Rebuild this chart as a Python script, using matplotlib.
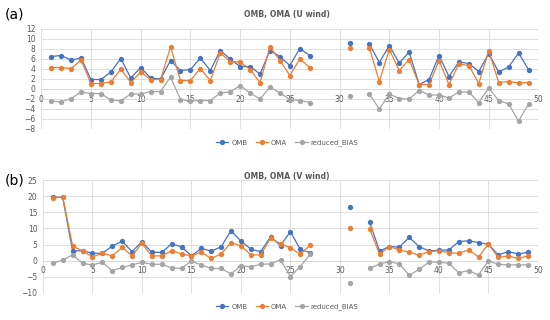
import numpy as np
import matplotlib
matplotlib.use('Agg')
import matplotlib.pyplot as plt

nan = np.nan

# station index 1..49 (28-30 and 32 missing)
idx = list(range(1, 50))

u_omb = [6.5, 6.7, 5.8, 6.2, 1.9, 1.9, 3.4, 6.1, 2.2, 4.3, 2.2, 2.0, 5.7, 3.7, 3.9, 6.2, 3.7, 7.7, 6.0, 4.5,
         4.5, 3.0, 7.7, 6.5, 4.7, 8.1, 6.7, nan, nan, nan, 9.3, nan, 9.0, 5.3, 8.7, 5.2, 7.4, 0.9, 1.9, 6.7,
         2.5, 5.4, 5.1, 3.5, 7.1, 3.4, 4.4, 7.2, 3.9]
u_oma = [4.3, 4.3, 4.1, 5.8, 1.1, 1.1, 1.4, 4.0, 1.3, 3.4, 1.9, 1.9, 8.4, 1.7, 1.7, 4.1, 1.7, 7.2, 5.5, 5.4,
         3.9, 1.3, 8.4, 5.7, 2.7, 6.0, 4.3, nan, nan, nan, 8.2, nan, 8.2, 1.5, 7.9, 3.7, 5.9, 0.9, 0.9, 5.7,
         0.9, 5.0, 4.7, 1.1, 7.7, 1.3, 1.5, 1.2, 1.3]
u_bias = [-2.4, -2.6, -1.9, -0.6, -0.9, -0.9, -2.2, -2.4, -1.0, -1.0, -0.5, -0.5, 2.4, -2.1, -2.4, -2.3, -2.3, -0.8, -0.6, 0.7,
          -0.8, -2.0, 0.4, -0.8, -2.1, -2.3, -2.7, nan, nan, nan, -1.3, nan, -1.0, -4.0, -1.0, -1.9, -2.0, -0.3, -1.2, -1.2,
          -1.8, -0.6, -0.6, -2.7, 0.2, -2.3, -3.0, -6.4, -3.0]

v_omb = [19.8, 19.6, 3.0, 3.1, 2.3, 2.3, 4.5, 6.1, 2.8, 5.9, 2.6, 2.6, 5.2, 4.3, 1.5, 3.8, 3.0, 4.3, 9.3, 6.1,
         3.6, 2.8, 7.4, 4.7, 9.0, 3.5, 2.5, nan, nan, nan, 16.7, nan, 12.0, 3.0, 4.4, 4.2, 7.2, 4.4, 3.0, 3.3,
         3.3, 5.9, 6.2, 5.6, 5.1, 1.8, 2.8, 2.1, 2.6]
v_oma = [19.3, 19.8, 4.6, 3.0, 1.2, 2.3, 1.5, 4.1, 1.5, 5.4, 1.5, 1.5, 3.1, 2.1, 1.5, 2.6, 0.7, 2.1, 5.6, 4.6,
         1.8, 1.8, 7.0, 5.3, 4.0, 2.0, 4.8, nan, nan, nan, 10.0, nan, 9.9, 2.0, 4.4, 3.3, 2.7, 1.7, 2.8, 3.1,
         2.5, 2.3, 3.3, 1.2, 5.1, 1.0, 1.5, 0.7, 1.5]
v_bias = [-0.8, 0.2, 1.8, -0.8, -1.3, -0.5, -3.1, -2.1, -1.3, -0.5, -1.1, -1.1, -2.2, -2.4, -0.1, -1.3, -2.4, -2.4, -4.1, -1.5,
          -1.9, -1.1, -1.0, 0.3, -4.9, -1.8, 2.0, nan, nan, nan, -6.9, nan, -2.4, -1.0, -0.3, -1.0, -4.5, -2.7, -0.4, -0.4,
          -0.8, -3.7, -3.1, -4.4, -0.1, -1.1, -1.3, -1.3, -1.3]

series_names = ['OMB', 'OMA', 'reduced_BIAS']
cores = ['#4472C4', '#ED7D31', '#A5A5A5']
cor_texto = '#595959'
cor_grade = '#D9D9D9'

fig = plt.figure(figsize=(5.5, 3.2), dpi=100)


def painel(rect, dados, yticks, titulo, letra, title_y, letra_y, leg_y):
    ax = fig.add_axes(rect)
    linhas = []
    for vals, nome, cor in zip(dados, series_names, cores):
        l, = ax.plot(idx, vals, color=cor, lw=0.9, marker='o', markersize=3.8,
                     markeredgewidth=0, label=nome, zorder=3)
        linhas.append(l)

    ax.set_xlim(0, 50)
    ax.set_ylim(yticks[0], yticks[-1])
    ax.set_xticks(range(0, 51, 5))
    ax.set_yticks(yticks)
    ax.grid(True, color=cor_grade, lw=0.6, zorder=0)
    ax.set_axisbelow(True)

    for s in ['top', 'right', 'left']:
        ax.spines[s].set_visible(False)
    # eixo x cruza no zero, como no excel
    ax.spines['bottom'].set_position(('data', 0))
    ax.spines['bottom'].set_color(cor_grade)
    ax.spines['bottom'].set_linewidth(0.6)
    ax.tick_params(axis='both', length=0, labelsize=5.5, labelcolor=cor_texto)
    ax.tick_params(axis='x', pad=4)
    ax.tick_params(axis='y', pad=4)

    fig.text(0.522, title_y, titulo, ha='center', va='center', fontsize=5.6,
             fontweight='bold', color=cor_texto)
    fig.text(0.008, letra_y, letra, ha='left', va='center', fontsize=10, color='black')
    fig.legend(handles=linhas, loc='center', bbox_to_anchor=(0.522, leg_y), ncol=3,
               frameon=False, fontsize=5, labelcolor=cor_texto, handlelength=1.8,
               columnspacing=1.2, handletextpad=0.4, borderpad=0.2)
    return ax


painel([0.075, 1 - 129 / 320, 0.904, 100 / 320], [u_omb, u_oma, u_bias],
       list(range(-8, 13, 2)), 'OMB, OMA (U wind)', '(a)',
       1 - 14 / 320, 1 - 14 / 320, 1 - 143 / 320)

painel([0.078, 1 - 293 / 320, 0.9, 113 / 320], [v_omb, v_oma, v_bias],
       list(range(-10, 26, 5)), 'OMB, OMA (V wind)', '(b)',
       1 - 176 / 320, 1 - 180 / 320, 1 - 307 / 320)

plt.savefig('out.png', dpi=100)
